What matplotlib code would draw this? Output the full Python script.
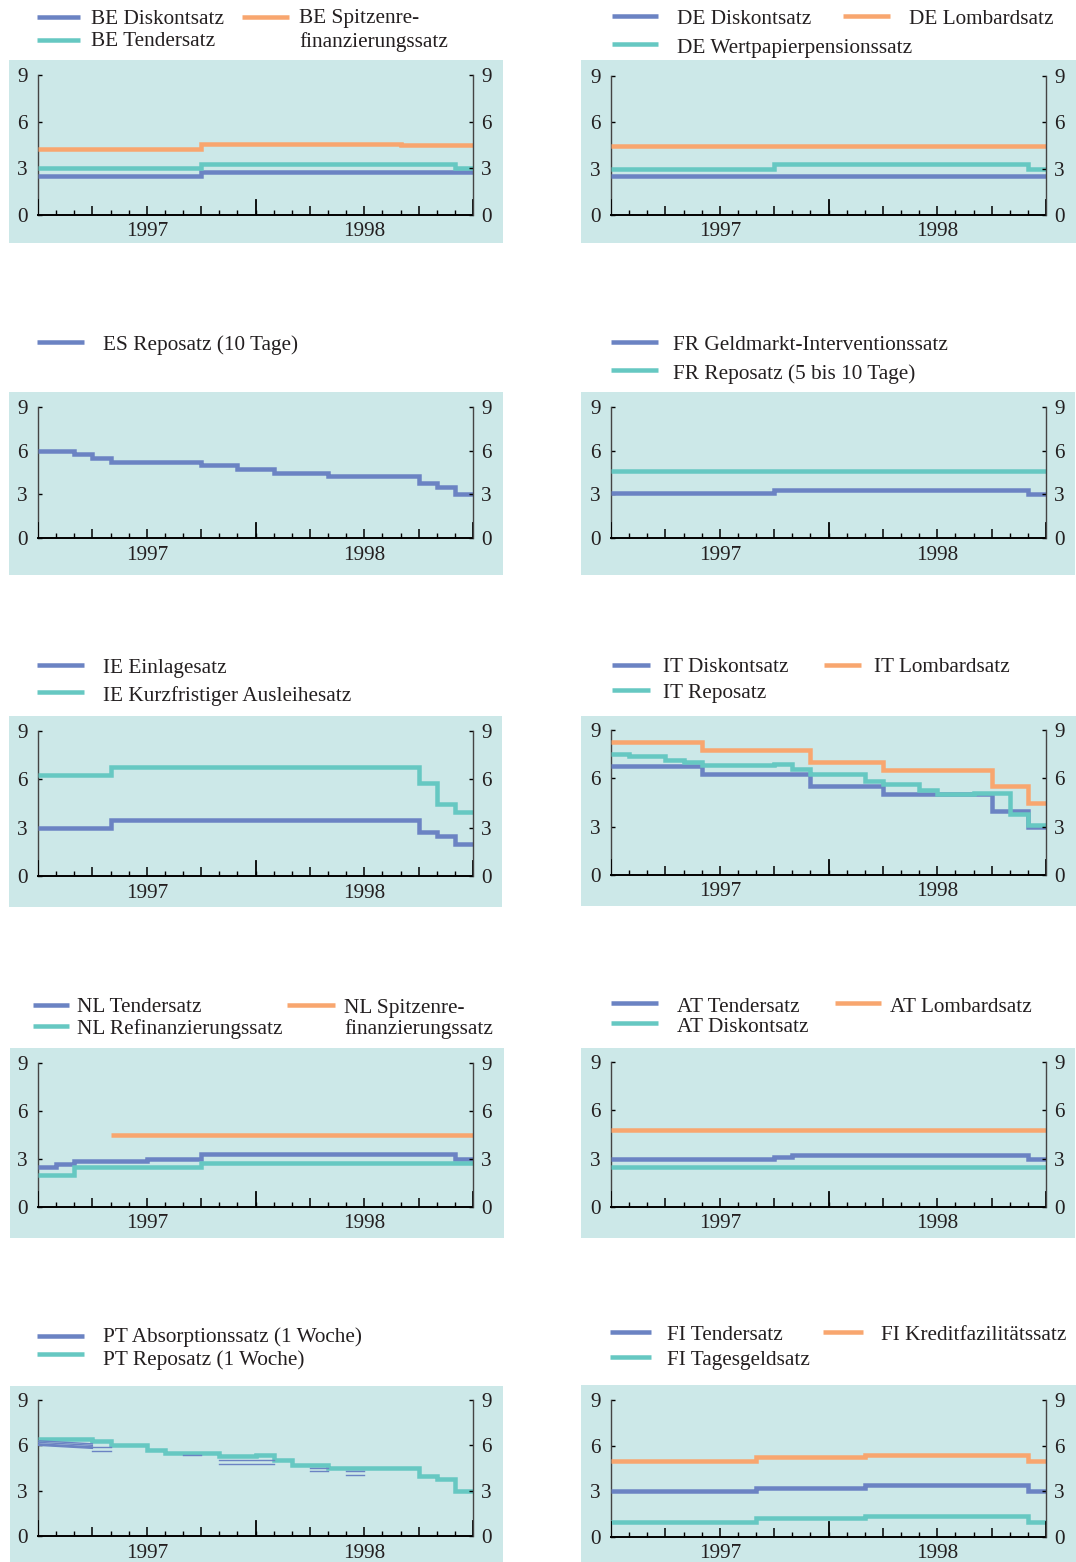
import matplotlib
matplotlib.use("Agg")
import matplotlib.pyplot as plt
from matplotlib.lines import Line2D
from matplotlib.patches import Rectangle

plt.rcParams["font.family"] = ["Liberation Serif", "DejaVu Serif"]
plt.rcParams["font.size"] = 15.3

BLUE = "#6b83c3"
CYAN = "#66c8c2"
ORANGE = "#f8a66f"
BG = "#cce8e8"
INK = "#231f20"
FS = 15.3

W, H = 1076, 1562

# ---------------------------------------------------------------------------
# Data: month of change (0 = Jan 1997) and the rate held from then on
# ---------------------------------------------------------------------------

MONTHS = 24
YEAR_LABELS = ["1997", "1998"]
Y_TICKS = [0, 3, 6, 9]

be_disk_m, be_disk_v = [0, 9], [2.5, 2.75]
be_tend_m, be_tend_v = [0, 9, 23], [3.0, 3.3, 3.0]
be_spitz_m, be_spitz_v = [0, 9, 20], [4.25, 4.55, 4.5]

de_disk_m, de_disk_v = [0], [2.5]
de_lomb_m, de_lomb_v = [0], [4.5]
de_wpp_m, de_wpp_v = [0, 9, 23], [3.0, 3.3, 3.0]

es_repo_m = [0, 2, 3, 4, 9, 11, 13, 16, 21, 22, 23]
es_repo_v = [6.0, 5.75, 5.5, 5.25, 5.0, 4.75, 4.5, 4.25, 3.75, 3.5, 3.0]

fr_geld_m, fr_geld_v = [0, 9, 23], [3.1, 3.3, 3.0]
fr_repo_m, fr_repo_v = [0], [4.6]

ie_einl_m, ie_einl_v = [0, 4, 21, 22, 23], [3.0, 3.5, 2.75, 2.5, 2.0]
ie_kurz_m, ie_kurz_v = [0, 4, 21, 22, 23], [6.25, 6.75, 5.75, 4.5, 4.0]

it_disk_m, it_disk_v = [0, 5, 11, 15, 21, 23], [6.75, 6.25, 5.5, 5.0, 4.0, 3.0]
it_lomb_m, it_lomb_v = [0, 5, 11, 15, 21, 23], [8.25, 7.75, 7.0, 6.5, 5.5, 4.5]
it_repo_m = [0, 1, 3, 4, 5, 7, 9, 10, 11, 14, 15, 17, 18, 20, 22, 23]
it_repo_v = [7.5, 7.4, 7.15, 7.0, 6.85, 6.8, 6.9, 6.6, 6.25, 5.85, 5.65,
             5.25, 5.0, 5.1, 3.8, 3.1]

nl_tend_m, nl_tend_v = [0, 1, 2, 6, 9, 23], [2.5, 2.7, 2.85, 3.0, 3.3, 3.0]
nl_refi_m, nl_refi_v = [0, 2, 9], [2.0, 2.5, 2.75]
nl_spitz_m, nl_spitz_v = [4], [4.5]

at_tend_m, at_tend_v = [0, 9, 10, 23], [3.0, 3.1, 3.2, 3.0]
at_lomb_m, at_lomb_v = [0], [4.75]
at_disk_m, at_disk_v = [0], [2.5]

pt_repo_m = [0, 3, 4, 6, 7, 10, 12, 13, 14, 16, 21, 22, 23]
pt_repo_v = [6.45, 6.3, 6.0, 5.7, 5.5, 5.3, 5.35, 5.05, 4.7, 4.5, 3.95, 3.75, 3.0]
# absorption rate only shows as loose thin segments in the source
pt_abs_x0 = [0, 0, 0, 0, 0, 3, 3, 8, 10, 10, 15, 15, 17, 17]
pt_abs_x1 = [3, 3, 3, 3, 3, 4, 4, 9, 13, 13, 16, 16, 18, 18]
pt_abs_y0 = [6.3, 6.2, 6.1, 6.05, 6.0, 5.87, 5.65, 5.34, 5.0, 4.75, 4.5, 4.27, 4.27, 4.05]
pt_abs_y1 = [6.1, 6.0, 5.9, 5.85, 5.8, 5.87, 5.65, 5.34, 5.0, 4.75, 4.5, 4.27, 4.27, 4.05]

fi_tend_m, fi_tend_v = [0, 8, 14, 23], [3.0, 3.2, 3.4, 3.0]
fi_kred_m, fi_kred_v = [0, 8, 14, 23], [5.0, 5.25, 5.4, 5.0]
fi_tag_m, fi_tag_v = [0, 8, 14, 23], [1.0, 1.25, 1.4, 1.0]

# ---------------------------------------------------------------------------
# Layout (pixels): axes box, background box, legend handles and text
# ---------------------------------------------------------------------------

PANELS = [
    dict(axes=(38, 75, 473, 215), bg=(9, 60, 503, 243),
         series=[(be_disk_m, be_disk_v, BLUE), (be_tend_m, be_tend_v, CYAN),
                 (be_spitz_m, be_spitz_v, ORANGE)],
         handles=[(37, 80, 17, BLUE), (37, 80, 40, CYAN), (242, 289, 17, ORANGE)],
         texts=[(91, 16, "BE Diskontsatz"), (91, 39, "BE Tendersatz"),
                (299, 16, "BE Spitzenre-"), (299, 39, "finanzierungssatz")]),
    dict(axes=(611, 76, 1046, 215), bg=(581, 60, 1076, 243),
         series=[(de_disk_m, de_disk_v, BLUE), (de_wpp_m, de_wpp_v, CYAN),
                 (de_lomb_m, de_lomb_v, ORANGE)],
         handles=[(612, 658, 16, BLUE), (612, 658, 44, CYAN), (843, 890, 16, ORANGE)],
         texts=[(677, 17, "DE Diskontsatz"), (677, 45, "DE Wertpapierpensionssatz"),
                (909, 17, "DE Lombardsatz")]),
    dict(axes=(38, 407, 473, 538), bg=(9, 392, 503, 575),
         series=[(es_repo_m, es_repo_v, BLUE)],
         handles=[(37, 84, 342, BLUE)],
         texts=[(103, 342, "ES Reposatz (10 Tage)")]),
    dict(axes=(611, 407, 1046, 538), bg=(581, 392, 1075, 575),
         series=[(fr_geld_m, fr_geld_v, BLUE), (fr_repo_m, fr_repo_v, CYAN)],
         handles=[(611, 658, 342, BLUE), (611, 658, 370, CYAN)],
         texts=[(673, 342, "FR Geldmarkt-Interventionssatz"),
                (673, 371, "FR Reposatz (5 bis 10 Tage)")]),
    dict(axes=(38, 731, 473, 876), bg=(9, 716, 502, 907),
         series=[(ie_einl_m, ie_einl_v, BLUE), (ie_kurz_m, ie_kurz_v, CYAN)],
         handles=[(37, 84, 665, BLUE), (37, 84, 692, CYAN)],
         texts=[(103, 665, "IE Einlagesatz"), (103, 693, "IE Kurzfristiger Ausleihesatz")]),
    dict(axes=(611, 730, 1046, 875), bg=(581, 716, 1076, 906),
         series=[(it_disk_m, it_disk_v, BLUE), (it_repo_m, it_repo_v, CYAN),
                 (it_lomb_m, it_lomb_v, ORANGE)],
         handles=[(612, 650, 665, BLUE), (612, 650, 690, CYAN), (824, 861, 665, ORANGE)],
         texts=[(663, 665, "IT Diskontsatz"), (663, 690, "IT Reposatz"),
                (874, 665, "IT Lombardsatz")]),
    dict(axes=(38, 1063, 473, 1207), bg=(10, 1048, 504, 1238),
         series=[(nl_tend_m, nl_tend_v, BLUE), (nl_refi_m, nl_refi_v, CYAN),
                 (nl_spitz_m, nl_spitz_v, ORANGE)],
         handles=[(33, 69, 1005, BLUE), (33, 69, 1026, CYAN), (287, 335, 1005, ORANGE)],
         texts=[(77, 1005, "NL Tendersatz"), (77, 1026, "NL Refinanzierungssatz"),
                (344, 1005, "NL Spitzenre-"), (344, 1026, "finanzierungssatz")]),
    dict(axes=(611, 1062, 1046, 1207), bg=(581, 1048, 1075, 1238),
         series=[(at_tend_m, at_tend_v, BLUE), (at_disk_m, at_disk_v, CYAN),
                 (at_lomb_m, at_lomb_v, ORANGE)],
         handles=[(611, 658, 1003, BLUE), (611, 658, 1023, CYAN), (835, 881, 1003, ORANGE)],
         texts=[(677, 1004, "AT Tendersatz"), (677, 1024, "AT Diskontsatz"),
                (890, 1004, "AT Lombardsatz")]),
    dict(axes=(38, 1400, 473, 1536), bg=(10, 1386, 503, 1562),
         series=[(pt_repo_m, pt_repo_v, CYAN)],
         handles=[(37, 84, 1336, BLUE), (37, 84, 1354, CYAN)],
         texts=[(103, 1334, "PT Absorptionssatz (1 Woche)"),
                (103, 1357, "PT Reposatz (1 Woche)")]),
    dict(axes=(611, 1400, 1046, 1537), bg=(581, 1385, 1076, 1562),
         series=[(fi_tend_m, fi_tend_v, BLUE), (fi_tag_m, fi_tag_v, CYAN),
                 (fi_kred_m, fi_kred_v, ORANGE)],
         handles=[(610, 651, 1332, BLUE), (610, 651, 1357, CYAN), (823, 863, 1332, ORANGE)],
         texts=[(667, 1333, "FI Tendersatz"), (667, 1358, "FI Tagesgeldsatz"),
                (881, 1333, "FI Kreditfazilitätssatz")]),
]


def fx(x):
    return x / W


def fy(y):
    return 1 - y / H


def pt(px):
    return px * 0.72


def draw_panel(fig, p):
    x0, y0, x1, y1 = p["bg"]
    fig.add_artist(Rectangle((fx(x0), fy(y1)), fx(x1 - x0), (y1 - y0) / H,
                             transform=fig.transFigure, facecolor=BG,
                             edgecolor="none", zorder=0))

    for hx0, hx1, hy, color in p["handles"]:
        fig.add_artist(Line2D([fx(hx0), fx(hx1)], [fy(hy), fy(hy)],
                              transform=fig.transFigure, color=color,
                              lw=pt(4.5), solid_capstyle="butt"))
    for tx, ty, label in p["texts"]:
        fig.text(fx(tx), fy(ty + 3), label, ha="left", va="center", color=INK,
                 fontsize=FS)

    ax0, at, ax1, ab = p["axes"]
    ax = fig.add_axes([fx(ax0), fy(ab), fx(ax1 - ax0), (ab - at) / H])
    ax.set_facecolor("none")
    ax.set_xlim(0, MONTHS)
    ax.set_ylim(0, 9)

    for m, v, color in p["series"]:
        ax.step(list(m) + [MONTHS], list(v) + [v[-1]], where="post",
                color=color, lw=pt(4.5), solid_joinstyle="miter",
                solid_capstyle="butt", zorder=3)

    # spines and ticks
    ax.spines["top"].set_visible(False)
    ax.spines["right"].set_visible(False)
    ax.spines["left"].set_color("#444444")
    ax.spines["left"].set_linewidth(1.0)
    ax.spines["bottom"].set_color("black")
    ax.spines["bottom"].set_linewidth(1.4)

    ax.set_yticks(Y_TICKS)
    ax.tick_params(axis="y", direction="in", length=3, width=1, pad=pt(10),
                   labelsize=FS, labelcolor=INK)
    ax.set_xticks([3, 6, 9, 15, 18, 21])
    ax.set_xticks(range(1, MONTHS), minor=True)
    ax.tick_params(axis="x", which="major", direction="in", length=pt(9),
                   width=1.1, labelbottom=False)
    ax.tick_params(axis="x", which="minor", direction="in", length=pt(5),
                   width=1.0)
    for m in (0, 12, 24):
        ax.axvline(m, ymin=0, ymax=15 / (ab - at), color="black", lw=1.3,
                   zorder=4)

    for i, year in enumerate(YEAR_LABELS):
        ax.annotate(year, xy=(6 + 12 * i, 0), xycoords=("data", "axes fraction"),
                    xytext=(0, -pt(17)), textcoords="offset points",
                    ha="center", va="center", fontsize=FS, color=INK)

    tw = ax.twinx()
    tw.set_ylim(0, 9)
    tw.set_yticks(Y_TICKS)
    for side in ("top", "left", "bottom"):
        tw.spines[side].set_visible(False)
    tw.spines["right"].set_color("#444444")
    tw.spines["right"].set_linewidth(1.0)
    tw.tick_params(axis="y", direction="in", length=3, width=1, pad=pt(8),
                   labelsize=FS, labelcolor=INK)
    return ax


fig = plt.figure(figsize=(W / 100, H / 100), dpi=100)
fig.patch.set_facecolor("white")

axes = [draw_panel(fig, p) for p in PANELS]

# Portugal absorption rate: thin loose segments on top of the repo rate
pt_ax = axes[8]
for a, b, c, d in zip(pt_abs_x0, pt_abs_x1, pt_abs_y0, pt_abs_y1):
    pt_ax.plot([a, b], [c, d], color=BLUE, lw=1.0, zorder=5)

fig.savefig("out.png", dpi=100)
